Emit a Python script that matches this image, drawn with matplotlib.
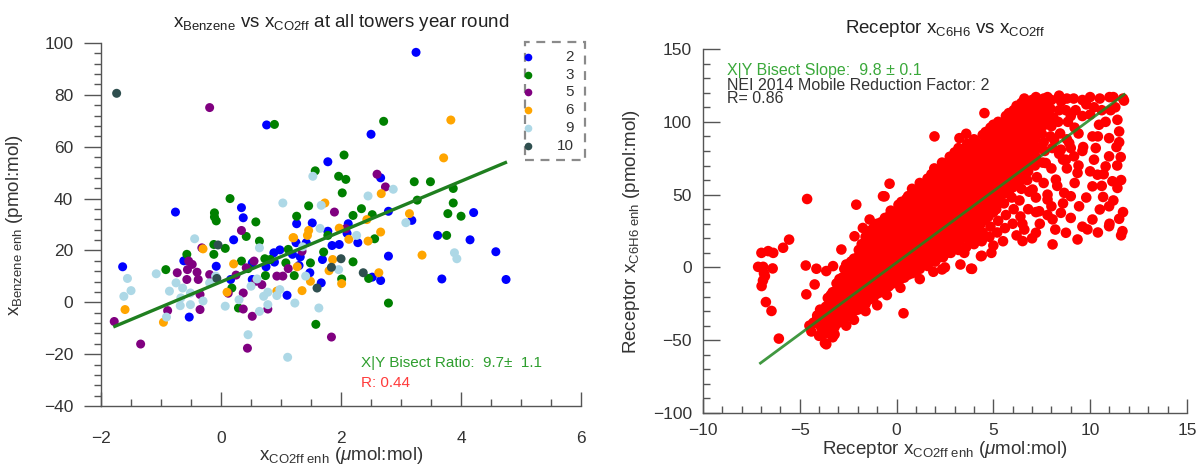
import matplotlib.pyplot as plt
from matplotlib.patches import Rectangle
from matplotlib.lines import Line2D
from matplotlib.ticker import MultipleLocator

plt.rcParams['font.family'] = ['Liberation Sans', 'DejaVu Sans']
plt.rcParams['mathtext.fontset'] = 'custom'
plt.rcParams['mathtext.rm'] = 'Liberation Sans'
plt.rcParams['mathtext.it'] = 'Liberation Sans:italic'
plt.rcParams['mathtext.default'] = 'regular'

# ---- left panel: benzene vs CO2ff enhancement at each tower ----
towers = ['2', '3', '5', '6', '9', '10']
tower_colors = ['#0000ff', '#008000', '#800080', '#ffa500', '#add8e6', '#2f4f4f']

tower2 = [(3.25, 96.4), (0.76, 68.4), (2.50, 64.8), (1.78, 54.2), (2.66, 48.0), (4.21, 34.6),
          (2.79, 35.1), (3.18, 31.6), (-0.76, 34.8), (0.34, 36.5), (0.37, 32.6), (1.26, 30.3),
          (1.52, 30.6), (2.12, 30.3), (1.78, 27.4), (3.61, 25.8), (0.21, 24.1), (4.15, 24.1),
          (4.58, 19.5), (4.75, 8.8), (3.68, 9.0), (2.79, 17.8), (2.66, 8.4), (2.52, 9.7),
          (2.28, 23.0), (1.97, 22.3), (2.10, 26.6), (1.85, 21.9), (1.69, 16.5), (1.67, 7.5),
          (1.48, 11.4), (1.42, 23.0), (1.32, 17.5), (1.25, 23.0), (1.19, 18.5), (1.10, 2.7),
          (0.89, 15.5), (0.88, 19.1), (0.75, 13.7), (0.52, 15.2), (0.52, 8.8), (0.16, 8.8),
          (-0.08, 13.9), (-0.53, -5.7), (-1.64, 13.7), (-0.62, 16.0), (1.30, 14.2), (0.98, 20.2)]
tower3 = [(0.89, 68.6), (2.71, 69.8), (2.05, 56.8), (1.57, 50.7), (1.96, 48.6), (2.08, 47.4),
          (3.22, 46.5), (3.49, 46.5), (2.02, 42.2), (3.27, 39.4), (3.87, 43.9), (3.87, 38.3),
          (3.78, 34.2), (4.00, 33.2), (0.15, 40.0), (1.46, 37.2), (2.34, 36.1), (2.20, 33.5),
          (2.52, 33.8), (-0.11, 34.5), (-0.11, 32.9), (-0.08, 31.4), (0.58, 31.0), (1.26, 33.2),
          (3.76, 25.8), (0.42, 25.4), (2.79, -0.3), (2.46, 9.2), (2.56, 24.5), (2.20, 15.6),
          (2.01, 9.0), (1.78, 25.8), (1.71, 19.4), (1.49, 15.2), (1.22, 10.3), (1.12, 20.4),
          (1.08, 15.2), (0.82, 16.5), (0.73, 16.8), (0.74, 10.3), (0.64, 23.6), (0.29, -2.2),
          (0.34, 15.9), (0.18, 5.5), (0.07, 20.8), (-0.12, 18.5), (-0.12, 22.3), (-0.57, 18.5),
          (-0.92, 12.6), (1.58, -8.5), (0.45, 13.0)]
tower5 = [(-0.19, 75.1), (2.60, 49.4), (2.74, 44.5), (1.89, 34.8), (2.08, 28.4), (0.34, 27.7),
          (1.84, -13.4), (1.35, 19.7), (1.03, 10.1), (0.93, 10.1), (0.78, -2.6), (0.68, 6.8),
          (0.58, 8.1), (0.55, 15.9), (0.52, -5.4), (0.42, 13.3), (0.44, -17.7), (0.37, -2.6),
          (0.37, 3.6), (-0.19, 10.7), (-0.32, 21.0), (-0.35, 3.0), (-0.35, -2.8), (-0.38, 8.8),
          (-0.48, 14.6), (-0.40, 11.6), (-0.54, 15.9), (-0.57, 8.8), (-0.56, 12.6), (-0.73, 11.4),
          (-0.89, -3.2), (-1.34, -16.1), (-1.78, -7.4), (0.12, 3.5), (1.12, 13.0), (0.25, 10.5)]
tower6 = [(3.83, 70.3), (3.71, 55.7), (2.67, 41.9), (1.73, 38.3), (3.14, 34.2), (2.43, 31.9),
          (1.97, 28.6), (1.46, 27.7), (2.66, 27.1), (1.20, 24.9), (3.35, 18.2), (2.63, 11.4),
          (2.45, 23.6), (2.01, 7.2), (2.13, 24.3), (1.86, 16.5), (1.49, 8.1), (1.35, 4.5),
          (1.44, 25.8), (1.27, 13.7), (1.21, 24.9), (0.93, 4.3), (0.21, 14.8), (0.10, 3.9),
          (-0.30, 20.6), (-0.96, -7.7), (-1.60, -2.8), (1.80, 12.2)]
tower9 = [(1.53, 48.6), (2.87, 43.6), (2.45, 41.0), (3.08, 30.7), (1.03, 38.3), (1.67, 37.4),
          (1.65, 28.5), (-0.44, 24.5), (3.89, 19.1), (3.93, 16.8), (2.26, 25.8), (1.96, 12.6),
          (1.63, -2.2), (1.41, 10.1), (1.36, 21.4), (1.23, -0.3), (1.11, -21.2), (0.98, 4.9),
          (0.93, 2.6), (0.78, 3.9), (0.78, -0.9), (0.71, 2.3), (0.64, 21.0), (0.60, 9.0),
          (0.64, -3.5), (0.50, 6.2), (0.45, -12.5), (0.07, -1.5), (-0.09, 10.1), (-0.19, 7.5),
          (-0.51, 3.6), (-0.51, -0.9), (-0.64, 5.5), (-0.67, 1.7), (-0.68, -1.3), (-0.75, 7.5),
          (-0.91, -5.7), (-0.86, 4.3), (-1.08, 11.0), (-1.50, 4.5), (-1.56, 9.2), (-1.62, 2.3),
          (-0.30, 0.5), (0.30, 1.0)]
tower10 = [(-1.74, 80.6), (2.37, 11.4), (2.00, 16.8), (1.84, 13.5), (1.60, 5.5), (-0.05, 22.1),
           (-0.07, 9.2)]
tower_pts = [tower2, tower3, tower5, tower6, tower9, tower10]

left_ratio = 9.7
left_icpt = 7.9
left_fit_x = [-1.77, 4.74]

# ---- right panel: receptor C6H6 vs CO2ff enhancement ----
cloud_core = [
    (-4.4, -44), (-4.3, -38), (-4.5, -40),
    (-4.0, -47), (-3.9, -41), (-4.1, -35), (-3.95, -29),
    (-3.6, -45), (-3.7, -39), (-3.5, -33), (-3.65, -27), (-3.55, -21),
    (-3.2, -41), (-3.1, -35), (-3.25, -29), (-3.15, -23), (-3.3, -17), (-3.1, -11),
    (-2.8, -37), (-2.75, -31), (-2.9, -25), (-2.7, -19), (-2.85, -13), (-2.8, -7), (-2.7, -1),
    (-2.4, -33), (-2.35, -27), (-2.45, -21), (-2.4, -15), (-2.3, -9), (-2.45, -3), (-2.35, 4),
    (-2.0, -29), (-1.95, -23), (-2.05, -17), (-2.0, -11), (-1.9, -5), (-2.05, 1), (-2.0, 7), (-1.95, 12),
    (-1.6, -25), (-1.55, -19), (-1.65, -13), (-1.6, -7), (-1.5, -1), (-1.65, 5), (-1.6, 11), (-1.55, 17),
    (-1.6, 21),
    (-1.2, -21), (-1.15, -15), (-1.25, -9), (-1.2, -3), (-1.1, 3), (-1.25, 9), (-1.2, 15), (-1.15, 21),
    (-1.2, 27),
    (-0.8, -17), (-0.75, -11), (-0.85, -5), (-0.8, 1), (-0.7, 7), (-0.85, 13), (-0.8, 19), (-0.75, 25),
    (-0.8, 31),
    (-0.4, -13), (-0.35, -7), (-0.45, -1), (-0.4, 5), (-0.3, 11), (-0.45, 17), (-0.4, 23), (-0.35, 29),
    (-0.4, 35), (-0.3, 39),
    (0.0, -10), (0.05, -4), (-0.05, 2), (0.0, 8), (0.1, 14), (-0.05, 20), (0.0, 26), (0.05, 32),
    (0.0, 38), (0.1, 43),
    (0.4, -7), (0.45, -1), (0.35, 5), (0.4, 11), (0.5, 17), (0.35, 23), (0.4, 29), (0.45, 35),
    (0.4, 41), (0.5, 47),
    (0.8, -4), (0.85, 2), (0.75, 8), (0.8, 14), (0.9, 20), (0.75, 26), (0.8, 32), (0.85, 38),
    (0.8, 44), (0.9, 50), (0.8, 54),
    (1.2, -1), (1.25, 5), (1.15, 11), (1.2, 17), (1.3, 23), (1.15, 29), (1.2, 35), (1.25, 41),
    (1.2, 47), (1.3, 53), (1.2, 58),
    (1.6, 1), (1.65, 7), (1.55, 13), (1.6, 19), (1.7, 25), (1.55, 31), (1.6, 37), (1.65, 43),
    (1.6, 49), (1.7, 55), (1.6, 61),
    (2.0, 4), (2.05, 10), (1.95, 16), (2.0, 22), (2.1, 28), (1.95, 34), (2.0, 40), (2.05, 46),
    (2.0, 52), (2.1, 58), (2.0, 64), (1.95, 68),
    (2.4, 7), (2.45, 13), (2.35, 19), (2.4, 25), (2.5, 31), (2.35, 37), (2.4, 43), (2.45, 49),
    (2.4, 55), (2.5, 61), (2.4, 67), (2.35, 72),
    (2.8, 10), (2.85, 16), (2.75, 22), (2.8, 28), (2.9, 34), (2.75, 40), (2.8, 46), (2.85, 52),
    (2.8, 58), (2.9, 64), (2.8, 70), (2.75, 76),
    (3.2, 12), (3.25, 18), (3.15, 24), (3.2, 30), (3.3, 36), (3.15, 42), (3.2, 48), (3.25, 54),
    (3.2, 60), (3.3, 66), (3.2, 72), (3.15, 78), (3.2, 82),
    (3.6, 14), (3.65, 20), (3.55, 26), (3.6, 32), (3.7, 38), (3.55, 44), (3.6, 50), (3.65, 56),
    (3.6, 62), (3.7, 68), (3.6, 74), (3.55, 80), (3.65, 85),
    (4.0, 16), (4.05, 22), (3.95, 28), (4.0, 34), (4.1, 40), (3.95, 46), (4.0, 52), (4.05, 58),
    (4.0, 64), (4.1, 70), (4.0, 76), (3.95, 82), (4.0, 88),
    (4.4, 18), (4.45, 24), (4.35, 30), (4.4, 36), (4.5, 42), (4.35, 48), (4.4, 54), (4.45, 60),
    (4.4, 66), (4.5, 72), (4.4, 78), (4.35, 84), (4.45, 91),
    (4.8, 21), (4.85, 28), (4.75, 35), (4.8, 42), (4.9, 48), (4.75, 54), (4.8, 60), (4.85, 66),
    (4.8, 72), (4.9, 78), (4.8, 84), (4.75, 90), (4.85, 96),
    (5.2, 24), (5.25, 32), (5.15, 40), (5.2, 47), (5.3, 53), (5.15, 59), (5.2, 65), (5.25, 71),
    (5.2, 77), (5.3, 83), (5.2, 89), (5.15, 95), (5.25, 100),
    (5.6, 27), (5.65, 36), (5.55, 44), (5.6, 51), (5.7, 57), (5.55, 63), (5.6, 69), (5.65, 75),
    (5.6, 81), (5.7, 87), (5.6, 93), (5.55, 99), (5.65, 104),
    (6.0, 30), (6.05, 40), (5.95, 48), (6.0, 55), (6.1, 61), (5.95, 67), (6.0, 73), (6.05, 79),
    (6.0, 85), (6.1, 91), (6.0, 97), (5.95, 103), (6.05, 108),
    (6.4, 35), (6.35, 46), (6.45, 54), (6.4, 60), (6.5, 66), (6.35, 72), (6.4, 78), (6.45, 84),
    (6.4, 90), (6.5, 96), (6.4, 102), (6.35, 108), (6.45, 113),
    (6.8, 40), (6.85, 52), (6.75, 60), (6.8, 66), (6.9, 72), (6.75, 78), (6.8, 84), (6.85, 90),
    (6.8, 96), (6.9, 102), (6.8, 108), (6.75, 114),
    (7.2, 48), (7.25, 62), (7.15, 70), (7.2, 76), (7.3, 82), (7.15, 88), (7.2, 94), (7.25, 100),
    (7.2, 106), (7.3, 112), (7.2, 117),
    (7.6, 58), (7.55, 72), (7.65, 80), (7.6, 86), (7.5, 92), (7.65, 98), (7.6, 104), (7.55, 110),
    (7.6, 116),
    (8.0, 68), (8.05, 82), (7.95, 90), (8.0, 97), (8.1, 103), (7.95, 109), (8.0, 115),
    (8.4, 78), (8.45, 92), (8.35, 100), (8.4, 108), (8.5, 114), (8.4, 118),
    (8.8, 88), (8.85, 100), (8.75, 108), (8.8, 116),
    (9.2, 96), (9.25, 108), (9.15, 116),
    (9.6, 104), (9.6, 115), (10.0, 117), (10.2, 110),
]
# in-between points of the densest part of the cloud
cloud_fill = [
    (-3.8, -42), (-3.8, -36), (-3.75, -30),
    (-3.4, -43), (-3.4, -37), (-3.35, -31), (-3.45, -25), (-3.4, -19),
    (-3.0, -38), (-3.0, -32), (-2.95, -26), (-3.05, -20), (-3.0, -14), (-2.95, -8),
    (-2.6, -34), (-2.6, -28), (-2.55, -22), (-2.65, -16), (-2.6, -10), (-2.55, -4), (-2.6, 2),
    (-2.2, -30), (-2.2, -24), (-2.15, -18), (-2.25, -12), (-2.2, -6), (-2.15, 0), (-2.2, 6),
    (-1.8, -26), (-1.8, -20), (-1.75, -14), (-1.85, -8), (-1.8, -2), (-1.75, 4), (-1.8, 10), (-1.8, 16),
    (-1.4, -22), (-1.4, -16), (-1.35, -10), (-1.45, -4), (-1.4, 2), (-1.35, 8), (-1.4, 14), (-1.4, 20),
    (-1.4, 25),
    (-1.0, -18), (-1.0, -12), (-0.95, -6), (-1.05, 0), (-1.0, 6), (-0.95, 12), (-1.0, 18), (-1.0, 24),
    (-1.0, 30),
    (-0.6, -14), (-0.6, -8), (-0.55, -2), (-0.65, 4), (-0.6, 10), (-0.55, 16), (-0.6, 22), (-0.6, 28),
    (-0.6, 34),
    (-0.2, -11), (-0.2, -5), (-0.15, 1), (-0.25, 7), (-0.2, 13), (-0.15, 19), (-0.2, 25), (-0.2, 31),
    (-0.2, 37),
    (0.2, -8), (0.2, -2), (0.25, 4), (0.15, 10), (0.2, 16), (0.25, 22), (0.2, 28), (0.2, 34),
    (0.2, 40), (0.25, 45),
    (0.6, -5), (0.6, 1), (0.65, 7), (0.55, 13), (0.6, 19), (0.65, 25), (0.6, 31), (0.6, 37),
    (0.6, 43), (0.6, 49),
    (1.0, -2), (1.0, 4), (1.05, 10), (0.95, 16), (1.0, 22), (1.05, 28), (1.0, 34), (1.0, 40),
    (1.0, 46), (1.0, 52),
    (1.4, 2), (1.4, 8), (1.45, 14), (1.35, 20), (1.4, 26), (1.45, 32), (1.4, 38), (1.4, 44),
    (1.4, 50), (1.4, 56),
    (1.8, 4), (1.8, 10), (1.85, 16), (1.75, 22), (1.8, 28), (1.85, 34), (1.8, 40), (1.8, 46),
    (1.8, 52), (1.8, 58), (1.8, 64),
    (2.2, 7), (2.2, 13), (2.25, 19), (2.15, 25), (2.2, 31), (2.25, 37), (2.2, 43), (2.2, 49),
    (2.2, 55), (2.2, 61), (2.2, 67),
    (2.6, 10), (2.6, 16), (2.65, 22), (2.55, 28), (2.6, 34), (2.65, 40), (2.6, 46), (2.6, 52),
    (2.6, 58), (2.6, 64), (2.6, 70),
    (3.0, 13), (3.0, 19), (3.05, 25), (2.95, 31), (3.0, 37), (3.05, 43), (3.0, 49), (3.0, 55),
    (3.0, 61), (3.0, 67), (3.0, 73), (3.0, 79),
    (3.4, 21), (3.45, 27), (3.35, 33), (3.4, 39), (3.45, 45), (3.4, 51), (3.4, 57), (3.4, 63),
    (3.4, 69), (3.4, 75), (3.4, 81),
    (3.8, 23), (3.85, 29), (3.75, 35), (3.8, 41), (3.85, 47), (3.8, 53), (3.8, 59), (3.8, 65),
    (3.8, 71), (3.8, 77), (3.8, 83),
    (4.2, 25), (4.25, 31), (4.15, 37), (4.2, 43), (4.25, 49), (4.2, 55), (4.2, 61), (4.2, 67),
    (4.2, 73), (4.2, 79), (4.2, 85),
    (4.6, 33), (4.55, 39), (4.6, 45), (4.65, 51), (4.6, 57), (4.6, 63), (4.6, 69), (4.6, 75),
    (4.6, 81), (4.6, 87), (4.6, 93),
    (5.0, 38), (4.95, 44), (5.0, 50), (5.05, 56), (5.0, 62), (5.0, 68), (5.0, 74), (5.0, 80),
    (5.0, 86), (5.0, 92), (5.0, 98),
    (5.4, 45), (5.35, 51), (5.4, 57), (5.45, 63), (5.4, 69), (5.4, 75), (5.4, 81), (5.4, 87),
    (5.4, 93), (5.4, 99),
    (5.8, 52), (5.75, 58), (5.8, 64), (5.85, 70), (5.8, 76), (5.8, 82), (5.8, 88), (5.8, 94),
    (5.8, 100), (5.8, 106),
    (6.2, 58), (6.15, 64), (6.2, 70), (6.25, 76), (6.2, 82), (6.2, 88), (6.2, 94), (6.2, 100),
    (6.2, 106), (6.2, 111),
    (6.6, 69), (6.65, 75), (6.6, 81), (6.6, 87), (6.6, 93), (6.6, 99), (6.6, 105), (6.6, 111),
    (6.6, 116),
    (7.0, 79), (7.05, 85), (7.0, 91), (7.0, 97), (7.0, 103), (7.0, 109), (7.0, 115),
    (7.4, 95), (7.4, 101), (7.4, 107), (7.4, 113),
    (7.8, 100), (7.8, 106), (7.8, 112), (7.8, 117),
]
cloud_scatter = [
    (5.0, 15), (5.5, 18), (6.2, 22), (6.6, 26), (7.0, 20), (7.4, 30), (7.8, 36), (8.2, 26),
    (8.6, 44), (9.0, 34), (9.6, 28), (10.4, 24), (11.0, 30), (11.6, 22), (11.7, 38), (11.2, 46),
    (10.6, 56), (10.0, 66), (9.8, 48), (9.2, 58), (8.8, 68), (8.3, 56), (7.8, 50), (9.6, 80),
    (10.4, 90), (10.8, 100), (11.3, 110), (11.7, 116), (11.0, 117), (10.5, 116), (10.0, 105),
    (9.4, 92), (9.0, 82), (8.6, 74), (11.4, 70), (11.6, 60), (11.5, 86), (10.2, 74), (10.7, 64),
    (9.4, 70), (8.0, 42), (7.2, 38), (6.5, 30), (3.3, 2), (3.9, -1), (4.4, 8), (4.9, 10),
    (2.5, 0), (1.9, -3), (1.2, -8), (0.36, -31.5), (0.2, -14), (-0.5, -19), (-1.0, -26),
    (-1.6, -30), (-2.2, -36), (-2.6, -40), (-3.2, -46), (-3.7, -52), (-3.3, -48), (-3.9, -46),
    (-4.2, -38), (-4.1, -33), (11.75, 114.6), (11.41, 101.4), (11.5, 93.4), (11.36, 82.7),
    (11.58, 75.8), (10.98, 76.3), (11.41, 54.6), (11.5, 33.4), (11.67, 24.9), (10.98, 42),
    (10.67, 48.4), (10.38, 63.7), (10.12, 55.7), (10.5, 39.8), (9.86, 26.1), (9.35, 19.2),
    (9.0, 48.9), (9.35, 64.9), (9.17, 76.3), (9.64, 82.7), (10.29, 82), (10.98, 88.8),
    (10.46, 98), (11.06, 108), (10.12, 90), (10.8, 69.4), (11.15, 59.2), (9.43, 42),
    (10.12, 32.9), (10.98, 28.3), (8.06, 15.8), (8.75, 23.8), (8.49, 37.5), (8.06, 33),
    (7.8, 46.6), (8.66, 51.2), (8.23, 60.3), (8.75, 74), (8.49, 80.9), (7.2, 23.8), (6.51, 18.1),
    (7.37, 38.6), (7.03, 53.5), (7.71, 71.7), (8.14, 87.7), (8.92, 85.4), (2.35, -1.4),
    (3.85, -0.9), (4.36, 7.7), (3.5, 10.0), (9.8, 112), (10.6, 108), (9.0, 104), (11.2, 117),
]
cloud_outliers = [
    (-6.98, 10.0), (-6.63, 11.2), (-6.37, 10.0), (-5.86, 13.5), (-5.55, 19.1), (-7.15, 0.4),
    (-6.89, 0.4), (-6.4, -0.7), (-6.8, -6.0), (-6.97, -12.8), (-6.9, -9.0), (-6.75, -23.8),
    (-6.46, -29.9), (-6.08, -48.9), (-6.85, -4.0),
    (-4.62, 47.0), (-2.08, 43.1), (-1.39, 32.9), (-1.74, 27.1), (-2.17, 21.4), (-2.85, 12.3),
    (-3.28, 0.9), (-3.63, -2.5), (-4.14, -0.9), (-4.69, 1.3), (-4.23, -11.7), (-4.66, -18.5),
    (-4.06, -33.4), (-3.63, -52.8), (-3.28, -46.6), (-3.88, -45.9), (-4.23, -37.9),
    (-0.62, 48.8), (-0.36, 57.5), (-0.7, 48.9), (1.96, 90.0), (3.25, 88.8), (3.6, 91.8),
    (4.54, 106.0),
]
right_slope = 9.82
right_icpt = 3.3
right_fit_x = [-7.03, 11.76]

# ---- figure ----
fig = plt.figure(figsize=(12, 4.69), dpi=100)
ink = '#333333'
tick_grey = '#555555'


def style_axes(ax, ydir):
    for s in ['top', 'right']:
        ax.spines[s].set_visible(False)
    for s in ['left', 'bottom']:
        ax.spines[s].set_color(tick_grey)
        ax.spines[s].set_linewidth(1.0)
    ax.tick_params(which='both', colors=tick_grey, labelcolor=ink, labelsize=12.5, width=1.0)
    ax.tick_params(axis='y', which='both', direction=ydir, pad=8)
    ax.tick_params(axis='y', which='major', length=12)
    ax.tick_params(axis='y', which='minor', length=5)
    ax.tick_params(axis='x', which='both', direction='in')
    ax.tick_params(axis='x', which='major', length=10)
    ax.tick_params(axis='x', which='minor', length=5)


# left panel
ax1 = fig.add_axes([0.0842, 0.1343, 0.4, 0.774])
for pts, col in zip(tower_pts, tower_colors):
    ax1.scatter([p[0] for p in pts], [p[1] for p in pts], s=42, color=col, edgecolors='none', zorder=2)
ax1.plot(left_fit_x, [left_ratio * x + left_icpt for x in left_fit_x], color='#1f7f1f', lw=2.4, zorder=3)
ax1.set_xlim(-2, 6)
ax1.set_ylim(-40, 100)
ax1.xaxis.set_major_locator(MultipleLocator(2))
ax1.xaxis.set_minor_locator(MultipleLocator(0.5))
ax1.yaxis.set_major_locator(MultipleLocator(20))
ax1.yaxis.set_minor_locator(MultipleLocator(4))
style_axes(ax1, 'out')
ax1.tick_params(axis='x', pad=18)
ax1.set_xlabel(r'x$_{\mathrm{CO2ff\ enh}}$ ($\mathit{\mu}$mol:mol)', fontsize=13.5, color=ink)
ax1.xaxis.set_label_coords(0.5, -0.135)
ax1.xaxis.label.set_va('center')
ax1.set_ylabel(r'x$_{\mathrm{Benzene\ enh}}$ (pmol:mol)', fontsize=13.5, color=ink)
ax1.yaxis.set_label_coords(-0.181, 0.5)
ax1.yaxis.label.set_va('center')
ax1.text(0.5, 1 + 21 / 363, r'x$_{\mathrm{Benzene}}$ vs x$_{\mathrm{CO2ff}}$ at all towers year round',
         transform=ax1.transAxes, ha='center', va='center', fontsize=13.5, color='#222222')
ax1.text(2.34, -23.5, 'X|Y Bisect Ratio:  9.7\u00b1  1.1', color='#2e9e2e', fontsize=11, va='center')
ax1.text(2.34, -31.0, 'R: 0.44', color='#ff3b3b', fontsize=11, va='center')

# dashed legend box for the towers
fig.add_artist(Rectangle((525 / 1200, 1 - 160 / 469), 60 / 1200, 118 / 469, transform=fig.transFigure,
                         fill=False, ec='#8a8a8a', lw=1.6, ls=(0, (4, 3))))
row_y = [57, 75, 92, 110, 128, 146]
for name, col, yy in zip(towers, tower_colors, row_y):
    fig.add_artist(Line2D([528 / 1200], [1 - yy / 469], transform=fig.transFigure, marker='o',
                          markersize=5.5, color=col, markeredgewidth=0, linestyle='none'))
    fig.text(574 / 1200, 1 - yy / 469, name, ha='right', va='center', fontsize=11, color=ink)

# right panel
ax2 = fig.add_axes([0.5858, 0.1194, 0.4033, 0.776])
for pts in [cloud_core, cloud_fill, cloud_scatter, cloud_outliers]:
    ax2.scatter([p[0] for p in pts], [p[1] for p in pts], s=58, color='#ff0000', edgecolors='none', zorder=2)
ax2.plot(right_fit_x, [right_slope * x + right_icpt for x in right_fit_x], color='#1f861f', lw=2.0,
         alpha=0.85, zorder=3)
ax2.set_xlim(-10, 15)
ax2.set_ylim(-100, 150)
ax2.xaxis.set_major_locator(MultipleLocator(5))
ax2.xaxis.set_minor_locator(MultipleLocator(1))
ax2.yaxis.set_major_locator(MultipleLocator(50))
ax2.yaxis.set_minor_locator(MultipleLocator(10))
style_axes(ax2, 'in')
ax2.tick_params(axis='x', pad=7)
ax2.set_xlabel(r'Receptor x$_{\mathrm{CO2ff\ enh}}$ ($\mathit{\mu}$mol:mol)', fontsize=13.5, color=ink)
ax2.xaxis.set_label_coords(0.5, -0.10)
ax2.xaxis.label.set_va('center')
ax2.set_ylabel(r'Receptor x$_{\mathrm{C6H6\ enh}}$ (pmol:mol)', fontsize=13.5, color=ink)
ax2.yaxis.set_label_coords(-0.147, 0.5)
ax2.yaxis.label.set_va('center')
ax2.text(0.5, 1 + 21 / 364, r'Receptor x$_{\mathrm{C6H6}}$ vs x$_{\mathrm{CO2ff}}$',
         transform=ax2.transAxes, ha='center', va='center', fontsize=13.5, color='#222222')
ax2.text(0.05, 0.942, 'X|Y Bisect Slope:  9.8 \u00b1 0.1', transform=ax2.transAxes, color='#3aa83a',
         fontsize=11.5, va='center')
ax2.text(0.05, 0.901, 'NEI 2014 Mobile Reduction Factor: 2', transform=ax2.transAxes, color=ink,
         fontsize=11.5, va='center')
ax2.text(0.05, 0.863, 'R= 0.86', transform=ax2.transAxes, color=ink, fontsize=11.5, va='center')

fig.savefig('out.png', dpi=100)
